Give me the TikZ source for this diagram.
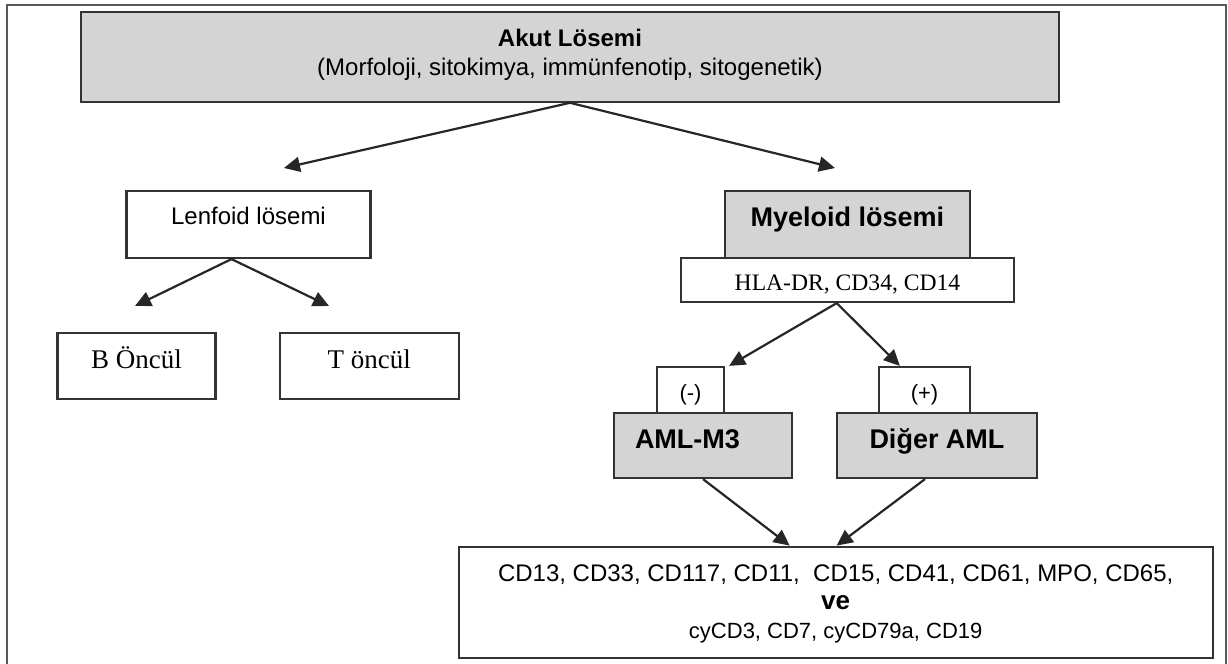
\documentclass[tikz,border=0pt]{standalone}
\usepackage{fontspec}
\setmainfont{Liberation Sans}
\newfontfamily\timesfont{Liberation Serif}
\usetikzlibrary{arrows.meta}

\begin{document}
\begin{tikzpicture}[x=0.5pt,y=-0.5pt,
    kutu/.style={draw=black!80,line width=1.1pt,inner sep=0pt,fill=white},
    grikutu/.style={kutu,fill=black!17},
    okcizgi/.style={draw=black!85,line width=1.1pt,-{Triangle[length=8pt,width=7.5pt]}}]
  \useasboundingbox (0,0) rectangle (1228,664);
  \draw[black!65,line width=1pt] (7,680) -- (7,5) -- (1226,5) -- (1226,680);

  \node[grikutu,minimum width=489pt,minimum height=45pt,align=center,
        font=\fontsize{12}{14.2}\selectfont,text depth=4.5pt] (akut) at (570,56.7)
        {\textbf{Akut Lösemi}\\(Morfoloji, sitokimya, immünfenotip, sitogenetik)};

  \node[kutu,minimum width=122pt,minimum height=33.7pt,font=\fontsize{12}{14}\selectfont,
        text height=9pt,text depth=8.9pt] (lenf) at (248.5,224.3) {Lenfoid lösemi};
  \node[grikutu,minimum width=122.3pt,minimum height=33.7pt,font=\bfseries\fontsize{13.5}{16}\selectfont,
        text height=10pt,text depth=7.9pt] (myel) at (847.3,224.3) {Myeloid lösemi};
  \node[kutu,minimum width=166.7pt,minimum height=22pt,font=\timesfont\fontsize{11.8}{13}\selectfont,
        text height=10.9pt,text depth=0pt] (hla) at (847.5,280) {HLA-DR, CD34, CD14};

  \node[kutu,minimum width=79pt,minimum height=33pt,font=\timesfont\fontsize{13.5}{16}\selectfont,
        text height=10pt,text depth=7.8pt] (bonc) at (136.4,366) {B Öncül};
  \node[kutu,minimum width=89.5pt,minimum height=33pt,font=\timesfont\fontsize{13.5}{16}\selectfont,
        text height=10pt,text depth=7.8pt] (tonc) at (369.2,366) {T öncül};

  \node[kutu,minimum width=33.5pt,minimum height=23pt,font=\fontsize{11}{13}\selectfont,
        text height=10.3pt,text depth=0pt] (neg) at (690.5,390) {(-)};
  \node[kutu,minimum width=45.5pt,minimum height=23pt,font=\fontsize{11}{13}\selectfont,
        text height=10.3pt,text depth=0pt] (pos) at (924.5,390) {(+)};
  \node[grikutu,minimum width=89pt,minimum height=32.5pt,inner xsep=10.5pt,text width=68pt,align=left,
        font=\bfseries\fontsize{13.5}{16}\selectfont,text height=10pt,text depth=7.5pt] (m3) at (703,445.5) {AML-M3};
  \node[grikutu,minimum width=100pt,minimum height=32.5pt,font=\bfseries\fontsize{13.5}{16}\selectfont,
        text height=10pt,text depth=7.5pt] (diger) at (937,445.5) {Diğer AML};

  \node[kutu,minimum width=377pt,minimum height=55.8pt,align=center,
        font=\fontsize{12}{14.2}\selectfont,text depth=1.2pt] (cd) at (835.7,602.5)
        {CD13, CD33, CD117, CD11, \ CD15, CD41, CD61, MPO, CD65,\\
         {\bfseries\fontsize{13}{14.2}\selectfont ve}\\
         {\fontsize{11}{14.2}\selectfont cyCD3, CD7, cyCD79a, CD19}};

  \coordinate (lenfuc) at (284,168);
  \coordinate (myeluc) at (835,168);
  \coordinate (bucu) at (135,306);
  \coordinate (tucu) at (329,306);

  \draw[okcizgi] (akut.south) -- (lenfuc);
  \draw[okcizgi] (akut.south) -- (myeluc);
  \draw[okcizgi] ([xshift=-8.5pt]lenf.south) -- (bucu);
  \draw[okcizgi] ([xshift=-8.5pt]lenf.south) -- (tucu);
  \draw[okcizgi] ([xshift=-5.4pt]hla.south) -- ([xshift=2pt]neg.north east);
  \draw[okcizgi] ([xshift=-5.4pt]hla.south) -- ([xshift=11pt]pos.north west);
  \draw[okcizgi] (m3.south) -- ([xshift=-23pt]cd.north);
  \draw[okcizgi] ([xshift=-6pt]diger.south) -- ([xshift=0.5pt]cd.north);
\end{tikzpicture}
\end{document}
